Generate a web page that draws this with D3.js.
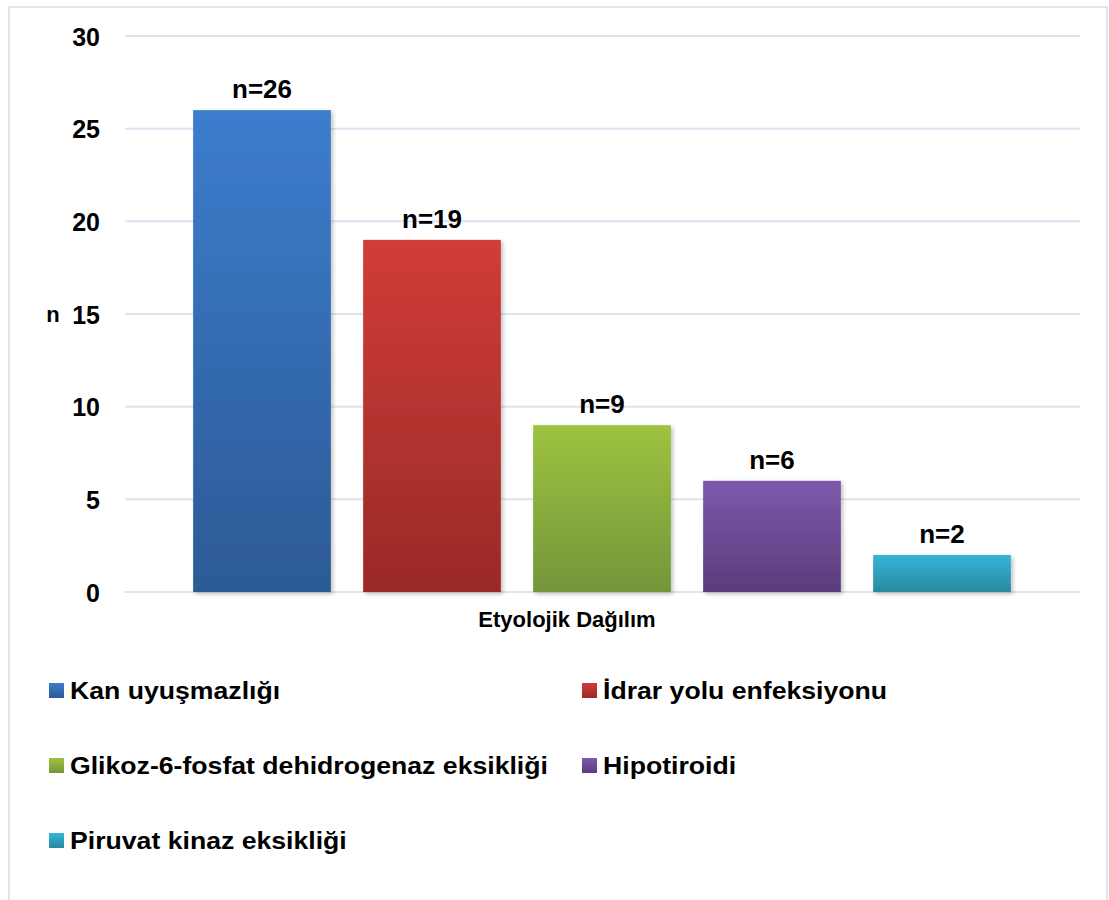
<!DOCTYPE html>
<html>
<head>
<meta charset="utf-8">
<script src="https://cdn.jsdelivr.net/npm/d3@7"></script>
<style>
  body { margin: 0; background: #fff; }
  text { font-family: "Liberation Sans", Arial, sans-serif; font-weight: bold; }
</style>
</head>
<body>
<svg id="chart" width="1109" height="900"></svg>
<script>
// categories and counts
var categories = ['Kan uyuşmazlığı', 'İdrar yolu enfeksiyonu', 'Glikoz-6-fosfat dehidrogenaz eksikliği', 'Hipotiroidi', 'Piruvat kinaz eksikliği'];
var counts = [26, 19, 9, 6, 2];
var yTicks = [0, 5, 10, 15, 20, 25, 30];
// top / bottom colour of each bar's gradient
var topColors = ['#3c7dcd', '#d13c38', '#9dc33f', '#7f58ab', '#36b4d8'];
var bottomColors = ['#2c5a95', '#992a27', '#74953a', '#5b3c7d', '#2a899f'];

var svg = d3.select('#chart');

// outer frame
svg.append('rect')
	.attr('x', 9).attr('y', 7)
	.attr('width', 1098).attr('height', 910)
	.attr('fill', 'none')
	.attr('stroke', '#dce6f2')
	.attr('stroke-width', 2);

var defs = svg.append('defs');
for (i=0; i<categories.length; i++){
	var g = defs.append('linearGradient')
		.attr('id', 'grad' + i)
		.attr('x1', 0).attr('y1', 0).attr('x2', 0).attr('y2', 1);
	g.append('stop').attr('offset', '0%').attr('stop-color', topColors[i]);
	g.append('stop').attr('offset', '100%').attr('stop-color', bottomColors[i]);
}
var shadow = defs.append('filter').attr('id', 'shadow')
	.attr('x', '-10%').attr('y', '-10%').attr('width', '130%').attr('height', '130%');
shadow.append('feDropShadow')
	.attr('dx', 2).attr('dy', 2).attr('stdDeviation', 2)
	.attr('flood-color', '#000').attr('flood-opacity', 0.25);

var y = d3.scaleLinear().domain([0, 30]).range([592, 36]);
var x = d3.scaleBand().domain(categories).range([177, 1027]).paddingInner(0.19).paddingOuter(0.095);

// gridlines
svg.append('g')
	.selectAll('line')
	.data(yTicks)
	.enter()
	.append('line')
	.attr('x1', 125).attr('x2', 1080)
	.attr('y1', function(d) { return y(d); })
	.attr('y2', function(d) { return y(d); })
	.attr('stroke', '#dbe5f1')
	.attr('stroke-width', 2);

// y axis labels
var yAxis = d3.axisLeft(y).tickValues(yTicks).tickSize(0).tickPadding(0);
var axisG = svg.append('g').attr('transform', 'translate(100,0)').call(yAxis);
axisG.select('.domain').remove();
axisG.selectAll('text')
	.attr('font-size', 25)
	.attr('font-family', '"Liberation Sans", Arial, sans-serif')
	.attr('font-weight', 'bold')
	.attr('fill', '#000')
	.attr('dy', '0.36em');

svg.append('text')
	.attr('x', 53).attr('y', 322)
	.attr('text-anchor', 'middle')
	.attr('font-size', 22)
	.text('n');

// bars
svg.append('g')
	.selectAll('rect')
	.data(counts)
	.enter()
	.append('rect')
	.attr('x', function(d, i) { return x(categories[i]); })
	.attr('y', function(d) { return y(d); })
	.attr('width', x.bandwidth())
	.attr('height', function(d) { return y(0) - y(d); })
	.attr('fill', function(d, i) { return 'url(#grad' + i + ')'; })
	.attr('filter', 'url(#shadow)');

// value labels
svg.append('g')
	.selectAll('text')
	.data(counts)
	.enter()
	.append('text')
	.attr('x', function(d, i) { return x(categories[i]) + x.bandwidth() / 2; })
	.attr('y', function(d) { return y(d) - 12; })
	.attr('text-anchor', 'middle')
	.attr('font-size', 26)
	.text(function(d) { return 'n=' + d; });

svg.append('text')
	.attr('x', 567).attr('y', 627)
	.attr('text-anchor', 'middle')
	.attr('font-family', '"Open Sans", sans-serif')
	.attr('font-size', 22)
	.text('Etyolojik Dağılım');

// legend, two columns
var legend = svg.append('g')
	.selectAll('g')
	.data(categories)
	.enter()
	.append('g')
	.attr('transform', function(d, i) {
		var lx = (i % 2 == 0) ? 49 : 582;
		var ly = 683 + Math.floor(i / 2) * 75;
		return 'translate(' + lx + ',' + ly + ')';
	});

legend.append('rect')
	.attr('width', 15).attr('height', 15)
	.attr('fill', function(d, i) { return 'url(#grad' + i + ')'; });

// legend text in the picture is a bit wider than plain Arial
legend.append('text')
	.attr('transform', 'translate(21,16) scale(1.11,1)')
	.attr('font-size', 24)
	.text(function(d) { return d; });
</script>
</body>
</html>
